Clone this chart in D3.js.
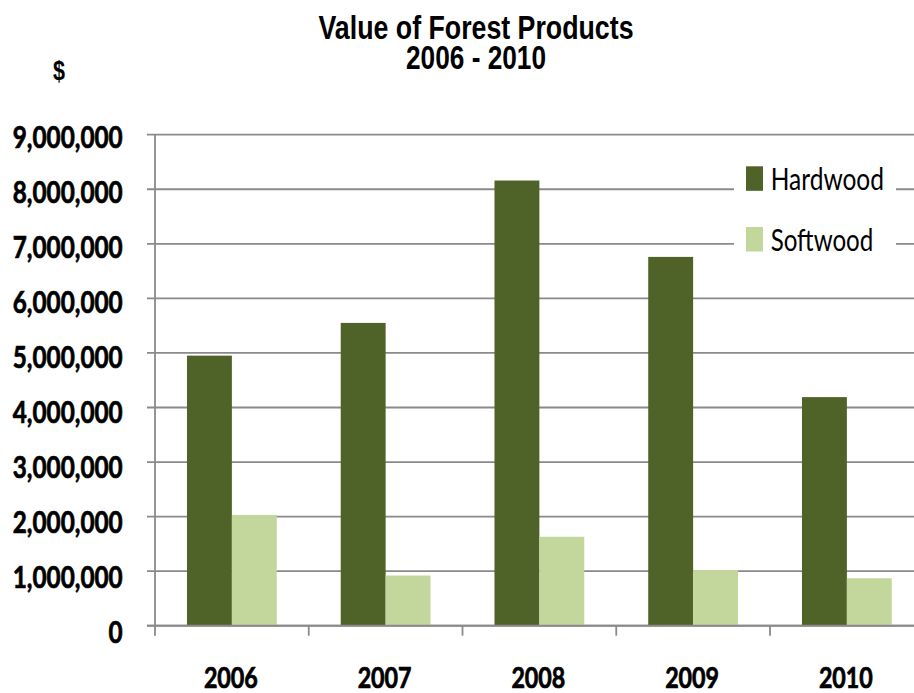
<!DOCTYPE html>
<html>
<head>
<meta charset="utf-8">
<script src="https://cdn.jsdelivr.net/npm/d3@7"></script>
<style>
  html, body { margin: 0; padding: 0; background: #fff; }
  svg { display: block; }
</style>
</head>
<body>
<svg id="chart" width="914" height="693"></svg>
<script>
// ---- data ----
const years = ["2006", "2007", "2008", "2009", "2010"];
const seriesNames = ["Hardwood", "Softwood"];
const hardwood = [4950000, 5550000, 8160000, 6760000, 4190000];
const softwood = [2030000, 920000, 1630000, 1020000, 870000];
const yTicks = [0, 1000000, 2000000, 3000000, 4000000, 5000000, 6000000, 7000000, 8000000, 9000000];
const titleLines = ["Value of Forest Products", "2006 - 2010"];
const unitLabel = "$";

const colors = { Hardwood: "#4f6228", Softwood: "#c3d69b" };
const seriesValues = { Hardwood: hardwood, Softwood: softwood };

const svg = d3.select("#chart");
const W = 914, H = 693;

const plotLeft = 155, plotRight = 923.75, plotTop = 134.7, plotBottom = 625.7;

const x0 = d3.scaleBand().domain(years).range([plotLeft, plotRight]).padding(0);
const barW = x0.bandwidth() * 0.292;
const x1 = d3.scaleBand().domain(seriesNames)
  .range([(x0.bandwidth() - 2 * barW) / 2, (x0.bandwidth() + 2 * barW) / 2]).padding(0);
const y = d3.scaleLinear().domain([0, 9000000]).range([plotBottom, plotTop]);
// label placement follows the reference's slightly different label pitch
const yLab = d3.scaleLinear().domain([0, 9000000]).range([631.7, 136.5]);

svg.append("defs").append("clipPath").attr("id", "vp")
  .append("rect").attr("x", 0).attr("y", 0).attr("width", W).attr("height", H);

const g = svg.append("g").attr("clip-path", "url(#vp)");

const gridColor = "#8a8a8a";

// gridlines (including tick stubs on the left)
g.append("g").selectAll("line").data(yTicks).join("line")
  .attr("x1", plotLeft - 8).attr("x2", plotRight)
  .attr("y1", d => y(d)).attr("y2", d => y(d))
  .attr("stroke", gridColor).attr("stroke-width", 1.8);

// bars
const groups = g.append("g").selectAll("g").data(years).join("g")
  .attr("transform", d => `translate(${x0(d)},0)`);
groups.selectAll("rect")
  .data((d, i) => seriesNames.map(s => ({ s, v: seriesValues[s][i] })))
  .join("rect")
  .attr("x", d => x1(d.s))
  .attr("width", x1.bandwidth())
  .attr("y", d => y(d.v))
  .attr("height", d => y(0) - y(d.v))
  .attr("fill", d => colors[d.s]);

// baseline
g.append("line").attr("x1", plotLeft - 8).attr("x2", plotRight)
  .attr("y1", y(0)).attr("y2", y(0)).attr("stroke", gridColor).attr("stroke-width", 2);

// vertical axis line
g.append("line").attr("x1", plotLeft).attr("x2", plotLeft)
  .attr("y1", plotTop).attr("y2", plotBottom + 10)
  .attr("stroke", gridColor).attr("stroke-width", 1.8);

// category tick marks at boundaries
const bounds = years.slice(1).map(d => x0(d));
g.append("g").selectAll("line").data(bounds).join("line")
  .attr("x1", d => d).attr("x2", d => d)
  .attr("y1", plotBottom).attr("y2", plotBottom + 10)
  .attr("stroke", gridColor).attr("stroke-width", 1.8);

const labelFont = "Lato, 'Open Sans', sans-serif";

// y-axis labels
const yLabels = svg.append("g").selectAll("text").data(yTicks).join("text")
  .attr("x", 122.7).attr("y", d => yLab(d))
  .attr("text-anchor", "end").attr("dominant-baseline", "central")
  .attr("font-family", labelFont).attr("font-weight", "bold")
  .attr("font-size", 29.5).attr("fill", "#000")
  .attr("stroke", "#000").attr("stroke-width", 0.7)
  .text(d => d3.format(",")(d));
(function () {
  const probe = yLabels.filter(d => d === 9000000).node();
  const k = 110 / probe.getComputedTextLength();
  yLabels.each(function () {
    const w = this.getComputedTextLength();
    d3.select(this).attr("textLength", w * k).attr("lengthAdjust", "spacingAndGlyphs");
  });
})();

// x-axis labels
const xLabels = svg.append("g").selectAll("text").data(years).join("text")
  .attr("x", d => x0(d) + x0.bandwidth() / 2 - 1).attr("y", 688.3)
  .attr("text-anchor", "middle")
  .attr("font-family", labelFont).attr("font-weight", "bold")
  .attr("font-size", 28).attr("fill", "#000")
  .attr("stroke", "#000").attr("stroke-width", 0.7)
  .text(d => d);
(function () {
  const k = 54 / xLabels.node().getComputedTextLength();
  xLabels.each(function () {
    const w = this.getComputedTextLength();
    d3.select(this).attr("textLength", w * k).attr("lengthAdjust", "spacingAndGlyphs");
  });
})();

// title (one text element, two lines)
const titleFont = "'Liberation Sans Narrow', 'Liberation Sans', Arial, sans-serif";
const titleY = [39.3, 69];
const titleW = [315, 140];
const title = svg.append("text")
  .attr("text-anchor", "middle")
  .attr("font-family", titleFont).attr("font-weight", "bold")
  .attr("font-size", 33).attr("fill", "#000");
title.selectAll("tspan").data(titleLines).join("tspan")
  .attr("x", 476).attr("y", (d, i) => titleY[i])
  .attr("textLength", (d, i) => titleW[i]).attr("lengthAdjust", "spacingAndGlyphs")
  .text(d => d);

// unit label
svg.append("text").attr("x", 59).attr("y", 80)
  .attr("text-anchor", "middle")
  .attr("font-family", titleFont).attr("font-weight", "bold")
  .attr("font-size", 27).attr("fill", "#000")
  .attr("textLength", 12).attr("lengthAdjust", "spacingAndGlyphs")
  .text(unitLabel);

// legend
const legend = svg.append("g");
legend.append("rect").attr("x", 734).attr("y", 150).attr("width", 162).attr("height", 118).attr("fill", "#fff");
const legY = [166.3, 227];
const legTW = [113.3, 102.6];
const li = legend.selectAll("g.item").data(seriesNames).join("g").attr("class", "item");
li.append("rect").attr("x", 746).attr("y", (d, i) => legY[i])
  .attr("width", 17).attr("height", 24.5).attr("fill", d => colors[d]);
li.append("text").attr("x", 770.7).attr("y", (d, i) => legY[i] + 23.8)
  .attr("font-family", labelFont)
  .attr("font-size", 31).attr("fill", "#000")
  .text(d => d)
  .each(function (d, i) {
    d3.select(this).attr("textLength", legTW[i]).attr("lengthAdjust", "spacingAndGlyphs");
  });
</script>
</body>
</html>
